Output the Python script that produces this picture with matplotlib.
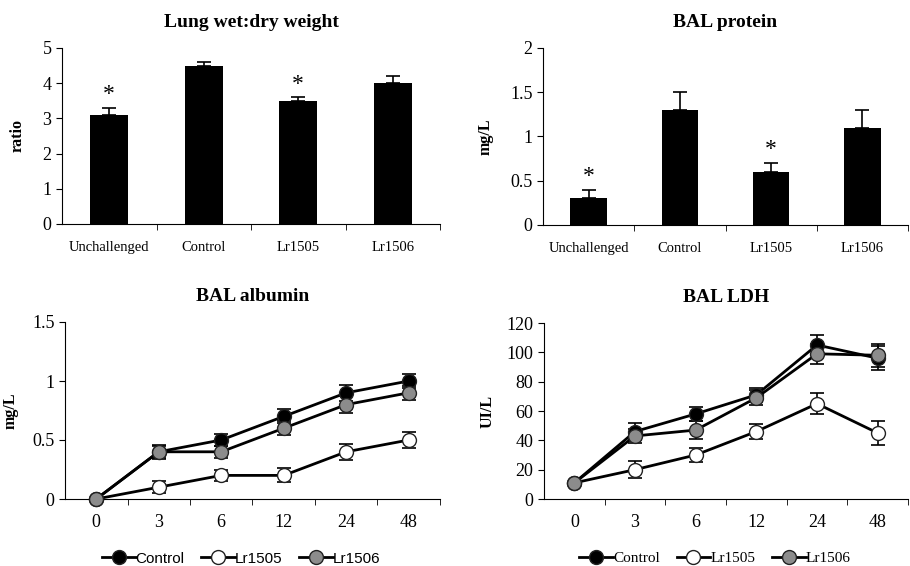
import numpy as np
import matplotlib
matplotlib.use('Agg')
import matplotlib.pyplot as plt
from matplotlib.ticker import FixedLocator, NullFormatter

groups = ['Unchallenged', 'Control', 'Lr1505', 'Lr1506']
wetdry = [3.1, 4.5, 3.5, 4.0]
wetdry_err = [0.2, 0.1, 0.1, 0.2]
wetdry_sig = [True, False, True, False]
protein = [0.3, 1.3, 0.6, 1.1]
protein_err = [0.1, 0.2, 0.1, 0.2]
protein_sig = [True, False, True, False]

hours = ['0', '3', '6', '12', '24', '48']
series = ['Control', 'Lr1505', 'Lr1506']
alb = {'Control': [0, 0.4, 0.5, 0.7, 0.9, 1.0],
       'Lr1505': [0, 0.1, 0.2, 0.2, 0.4, 0.5],
       'Lr1506': [0, 0.4, 0.4, 0.6, 0.8, 0.9]}
alb_err = {'Control': [0, 0.05, 0.05, 0.06, 0.07, 0.06],
           'Lr1505': [0, 0.05, 0.05, 0.06, 0.07, 0.07],
           'Lr1506': [0, 0.06, 0.05, 0.06, 0.07, 0.06]}
ldh = {'Control': [11, 46, 58, 71, 105, 96],
       'Lr1505': [11, 20, 30, 46, 65, 45],
       'Lr1506': [11, 43, 47, 69, 99, 98]}
ldh_err = {'Control': [0, 6, 5, 5, 7, 8],
           'Lr1505': [0, 6, 5, 5, 7, 8],
           'Lr1506': [0, 5, 6, 5, 7, 8]}

colors = {'Control': 'black', 'Lr1505': 'white', 'Lr1506': '#8c8c8c'}
serif = 'Liberation Serif'
W, H = 910, 566

fig = plt.figure(figsize=(W / 100, H / 100), dpi=100)

def axes_px(x0, x1, y0, y1):
    return fig.add_axes([x0 / W, 1 - y1 / H, (x1 - x0) / W, (y1 - y0) / H])

def style(ax, n, title, ylabel, ymax, step, xsize, ylpad, xpad):
    ax.spines['top'].set_visible(False)
    ax.spines['right'].set_visible(False)
    ax.set_xlim(-0.5, n - 0.5)
    ax.set_ylim(0, ymax)
    ticks = np.arange(0, ymax + step / 2, step)
    ax.set_yticks(ticks)
    ax.set_yticklabels(['%g' % v for v in ticks], fontfamily=serif, fontsize=13)
    ax.set_xticks(range(n))
    ax.tick_params(axis='x', which='major', length=0, pad=xpad)
    ax.xaxis.set_minor_locator(FixedLocator(np.arange(0.5, n, 1)))
    ax.xaxis.set_minor_formatter(NullFormatter())
    ax.tick_params(axis='x', which='minor', length=4, direction='out')
    ax.tick_params(axis='y', length=4, direction='out')
    ax.set_title(title, fontfamily=serif, fontweight='bold', fontsize=14, pad=15)
    ax.set_ylabel(ylabel, fontfamily=serif, fontweight='bold', fontsize=11.5,
                  labelpad=ylpad)
    for lab in ax.get_xticklabels():
        lab.set_fontfamily(serif)
        lab.set_fontsize(xsize)

def bar_panel(ax, vals, errs, sig, title, ylabel, ymax, step, ylpad):
    x = np.arange(len(groups))
    ax.bar(x, vals, width=0.4, color='black', zorder=2)
    ax.errorbar(x, vals, yerr=[np.zeros(len(vals)), errs], fmt='none',
                ecolor='black', elinewidth=1.2, capsize=5, capthick=1.2, zorder=1)
    ax.set_xticks(x)
    ax.set_xticklabels(groups)
    for xi, v, e, s in zip(x, vals, errs, sig):
        if s:
            ax.text(xi, v + e + ymax * 0.015, '*', ha='center', va='bottom',
                    fontfamily=serif, fontsize=17)
    style(ax, len(groups), title, ylabel, ymax, step, 10.5, ylpad, 12)

def line_panel(ax, data, errs, title, ylabel, ymax, step, legfont, ylpad):
    x = np.arange(len(hours))
    for s in series:
        ax.errorbar(x, data[s], yerr=errs[s], fmt='none', ecolor='black',
                    elinewidth=1.2, capsize=5, capthick=1.2, zorder=2)
        ax.plot(x, data[s], color='black', lw=2, marker='o', ms=10,
                mfc=colors[s], mec='#222222', mew=1, label=s,
                clip_on=False, zorder=3)
    ax.set_xticks(x)
    ax.set_xticklabels(hours)
    style(ax, len(hours), title, ylabel, ymax, step, 13, ylpad, 11)
    ax.legend(loc='upper center', bbox_to_anchor=(0.47, -0.22), ncol=3,
              frameon=False, handlelength=2.2, handletextpad=0.0,
              columnspacing=1.1, prop={'family': legfont, 'size': 11})

ax1 = axes_px(62, 440, 48, 224)
bar_panel(ax1, wetdry, wetdry_err, wetdry_sig, 'Lung wet:dry weight', 'ratio', 5, 1, 12)
ax2 = axes_px(543, 908, 48, 225)
bar_panel(ax2, protein, protein_err, protein_sig, 'BAL protein', 'mg/L', 2, 0.5, 12)
ax3 = axes_px(65, 440, 322, 499)
line_panel(ax3, alb, alb_err, 'BAL albumin', 'mg/L', 1.5, 0.5, 'Liberation Sans', 10)
ax4 = axes_px(544, 908, 323, 499)
line_panel(ax4, ldh, ldh_err, 'BAL LDH', 'UI/L', 120, 20, serif, 8)

fig.savefig('out.png', dpi=100)
